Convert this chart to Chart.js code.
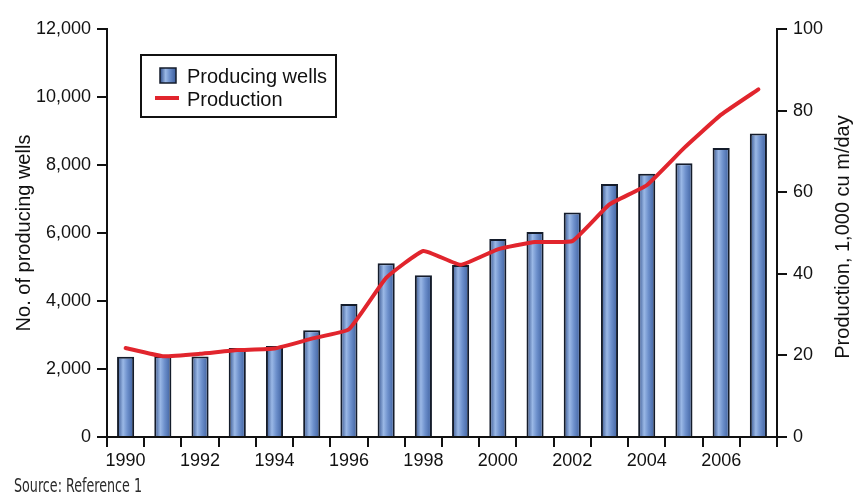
<!DOCTYPE html>
<html>
<head>
<meta charset="utf-8">
<script src="https://cdn.jsdelivr.net/npm/chart.js@4"></script>
<style>
  html, body { margin: 0; padding: 0; background: #fff; }
  #wrap { position: relative; width: 854px; height: 494px; }
</style>
</head>
<body>
<div id="wrap"><canvas id="wells-chart" width="854" height="494"></canvas></div>
<script>
// Data
const years = ['1990', '1991', '1992', '1993', '1994', '1995', '1996', '1997', '1998',
  '1999', '2000', '2001', '2002', '2003', '2004', '2005', '2006', '2007'];
const producingWells = [2360, 2380, 2370, 2620, 2680, 3140, 3910, 5110, 4760,
  5060, 5820, 6030, 6600, 7440, 7740, 8050, 8500, 8930];
const production = [21.8, 19.8, 20.4, 21.3, 21.7, 24.1, 26.4, 39.0, 45.6,
  42.2, 46.0, 47.8, 48.0, 57.0, 61.7, 70.8, 79.0, 85.2];
const wellTicks = [0, 2000, 4000, 6000, 8000, 10000, 12000];
const productionTicks = [0, 20, 40, 60, 80, 100];

const FONT = "'Liberation Sans', Arial, sans-serif";
const INK = '#111';
const BAR_FRACTION = 0.46;
const BAR_EDGE = '#141c2b';
const RED = '#e1252d';

// Horizontal shading for a bar between x0 and x1
function barGradient(c, x0, x1) {
  const g = c.createLinearGradient(x0, 0, x1, 0);
  g.addColorStop(0, '#2f4d88');
  g.addColorStop(0.35, '#9ab8e6');
  g.addColorStop(0.6, '#6d90cc');
  g.addColorStop(1, '#3b5d9c');
  return g;
}

function barFill(ctx) {
  const chart = ctx.chart;
  const xs = chart.scales.x;
  if (!xs || ctx.dataIndex === undefined) return '#6d8fc8';
  const cx = xs.getPixelForValue(ctx.dataIndex);
  const half = xs.width / years.length * BAR_FRACTION / 2;
  if (!Number.isFinite(cx) || !Number.isFinite(half) || half <= 0) return '#6d8fc8';
  return barGradient(chart.ctx, cx - half, cx + half);
}

// Legend box, right-hand axis title and source line
const extras = {
  id: 'extras',
  afterDraw(chart) {
    const c = chart.ctx;
    const sets = chart.data.datasets;
    c.save();

    // legend frame
    c.fillStyle = '#fff';
    c.fillRect(140, 54, 197, 64);
    c.strokeStyle = INK;
    c.lineWidth = 2;
    c.strokeRect(141, 55, 195, 62);

    // bar swatch
    c.fillStyle = barGradient(c, 160, 176);
    c.fillRect(160, 68, 16, 15);
    c.lineWidth = 1.5;
    c.strokeStyle = BAR_EDGE;
    c.strokeRect(160, 68, 16, 15);

    // line swatch
    c.strokeStyle = RED;
    c.lineWidth = 4;
    c.beginPath();
    c.moveTo(155, 98);
    c.lineTo(179, 98);
    c.stroke();

    c.fillStyle = INK;
    c.font = '20px ' + FONT;
    c.textBaseline = 'alphabetic';
    c.fillText(sets[1].label, 187, 83);
    c.fillText(sets[0].label, 187, 106);

    // right axis title, reading upwards
    c.save();
    c.translate(843, 237);
    c.rotate(-Math.PI / 2);
    c.textAlign = 'center';
    c.textBaseline = 'middle';
    c.font = '20px ' + FONT;
    c.fillText('Production, 1,000 cu m/day', 0, 0);
    c.restore();

    // source note in a condensed face
    c.save();
    c.font = "20px 'Liberation Sans Narrow', 'DejaVu Sans Condensed', sans-serif";
    const src = 'Source: Reference 1';
    const w = c.measureText(src).width;
    c.translate(14, 492);
    c.scale(128 / w, 1);
    c.fillStyle = '#2a2a2a';
    c.fillText(src, 0, 0);
    c.restore();

    c.restore();
  }
};

const chart = new Chart(document.getElementById('wells-chart'), {
  type: 'bar',
  data: {
    labels: years,
    datasets: [
      {
        type: 'line',
        label: 'Production',
        data: production,
        yAxisID: 'y1',
        borderColor: RED,
        borderWidth: 4,
        borderJoinStyle: 'round',
        borderCapStyle: 'round',
        pointRadius: 0,
        tension: 0.12,
        order: 0
      },
      {
        type: 'bar',
        label: 'Producing wells',
        data: producingWells,
        yAxisID: 'y',
        backgroundColor: barFill,
        borderColor: BAR_EDGE,
        borderWidth: 2,
        categoryPercentage: 1,
        barPercentage: BAR_FRACTION,
        order: 1
      }
    ]
  },
  options: {
    responsive: false,
    animation: false,
    layout: { padding: { top: 29, left: 0, right: 0, bottom: 0 } },
    plugins: {
      legend: { display: false },
      tooltip: { enabled: false }
    },
    scales: {
      x: {
        offset: true,
        grid: { offset: true, drawOnChartArea: false, drawTicks: true, tickLength: 10, color: INK, lineWidth: 2 },
        border: { display: true, color: INK, width: 2 },
        ticks: {
          autoSkip: false,
          maxRotation: 0,
          padding: 3,
          color: INK,
          font: { family: FONT, size: 18 },
          callback: (v, i) => (i % 2 === 0 ? years[i] : '')
        },
        afterFit: s => { s.height = 57; }
      },
      y: {
        position: 'left',
        min: 0,
        max: 12000,
        afterBuildTicks: s => { s.ticks = wellTicks.map(v => ({ value: v })); },
        grid: { drawOnChartArea: false, drawTicks: true, tickLength: 10, color: INK, lineWidth: 2 },
        border: { display: true, color: INK, width: 2 },
        ticks: {
          padding: 6,
          color: INK,
          font: { family: FONT, size: 18 },
          callback: v => v.toLocaleString('en-US')
        },
        title: {
          display: true,
          text: 'No. of producing wells',
          color: INK,
          font: { family: FONT, size: 20 },
          padding: { top: 12, bottom: 0 }
        },
        afterFit: s => { s.width = 107; }
      },
      y1: {
        position: 'right',
        min: 0,
        max: 100,
        afterBuildTicks: s => { s.ticks = productionTicks.map(v => ({ value: v })); },
        grid: { drawOnChartArea: false, drawTicks: true, tickLength: 10, color: INK, lineWidth: 2 },
        border: { display: true, color: INK, width: 2 },
        ticks: {
          padding: 6,
          color: INK,
          font: { family: FONT, size: 18 }
        },
        afterFit: s => { s.width = 77; }
      }
    }
  },
  plugins: [extras]
});
</script>
</body>
</html>
